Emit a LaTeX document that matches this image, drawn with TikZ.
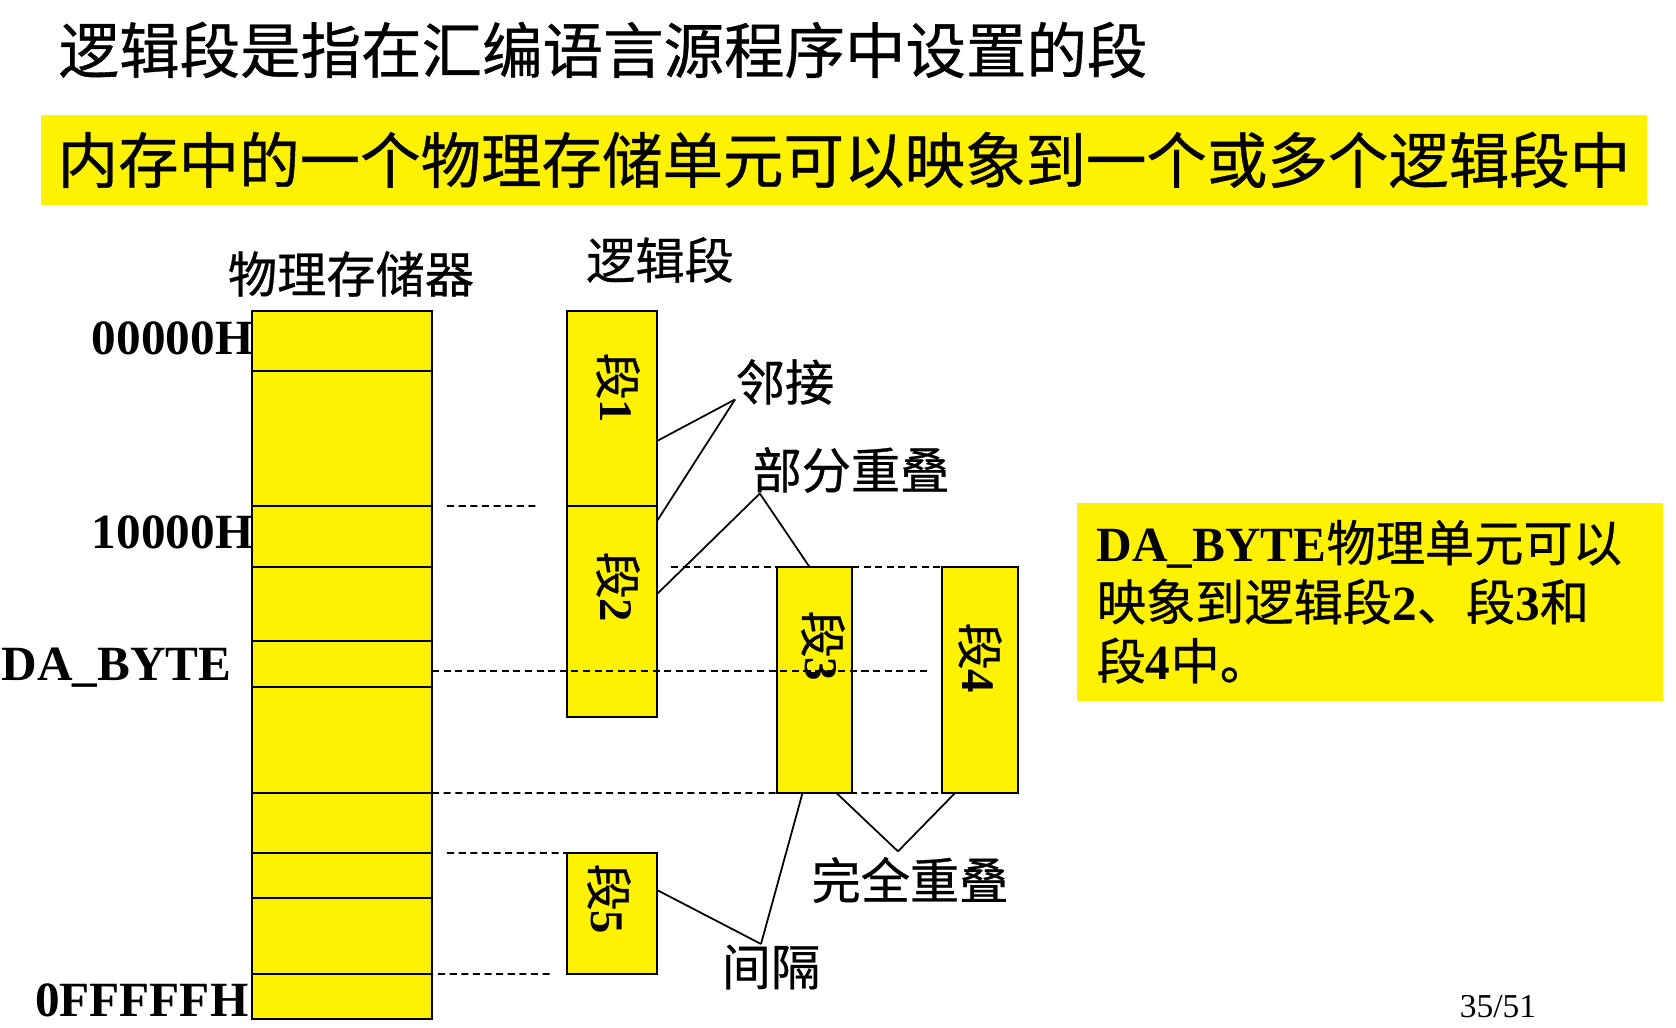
\documentclass[tikz,border=0pt]{standalone}
\usepackage{fontspec}
\setmainfont{Liberation Serif}
\newfontfamily\cjk[FakeBold=0.6]{Noto Sans CJK SC}
\begin{document}
\begin{tikzpicture}[x=0.01cm,y=-0.01cm,
	cell/.style={draw,fill=yellow,line width=0.6pt,minimum width=1.8cm,inner sep=0,outer sep=0},
	seg/.style={draw,fill=yellow,line width=0.6pt,inner sep=0,outer sep=0},
	segtext/.style={rotate=-90,inner sep=0,font=\fontsize{13.3pt}{15pt}\selectfont},
	addr/.style={anchor=east,inner sep=0,font=\bfseries\fontsize{14pt}{16pt}\selectfont},
	note/.style={inner sep=0,font=\cjk\fontsize{14pt}{16pt}\selectfont},
	guide/.style={dash pattern=on 2pt off 1.3pt,line width=0.5pt},
	link/.style={line width=0.5pt}]

	\useasboundingbox (0,0) rectangle (1676,1027);

	\node[anchor=west,inner sep=0,font=\cjk\fontsize{17.2pt}{20pt}\selectfont] (title) at (58,50) {逻辑段是指在汇编语言源程序中设置的段};
	\node[fill=yellow,minimum width=16.05cm,minimum height=0.9cm,inner sep=0,font=\cjk\fontsize{17.2pt}{20pt}\selectfont] (banner) at (844,160) {内存中的一个物理存储单元可以映象到一个或多个逻辑段中};

	\foreach \i/\top/\h in {1/311/0.60, 2/371/1.35, 3/506/0.61, 4/567/0.74, 5/641/0.46,
			6/687/1.06, 7/793/0.60, 8/853/0.45, 9/898/0.76, 10/974/0.45}
		\node[cell,anchor=north west,minimum height=\h cm] (m\i) at (252,\top) {};

	\node[addr] (a0) at (254,338) {00000H};
	\node[addr] (a1) at (254,532) {10000H};
	\node[addr] (a2) at (232,668) {DA\_BYTE};
	\node[addr] (a3) at (249,1000) {0FFFFFH};

	\node[note] (phys) at (351,274) {物理存储器};
	\node[note] (logic) at (660,260) {逻辑段};

	\node[seg,minimum width=0.90cm,minimum height=1.95cm] (s1) at (612,408.5) {};
	\node[seg,minimum width=0.90cm,minimum height=2.11cm] (s2) at (612,611.5) {};
	\node[seg,minimum width=0.75cm,minimum height=2.26cm] (s3) at (814.5,680) {};
	\node[seg,minimum width=0.76cm,minimum height=2.26cm] (s4) at (980,680) {};
	\node[seg,minimum width=0.90cm,minimum height=1.21cm] (s5) at (612,913.5) {};

	\node[segtext] (t1) at (618,388) {{\cjk 段}\textbf{1}};
	\node[segtext] (t2) at (618,587) {{\cjk 段}\textbf{2}};
	\node[segtext] (t3) at (823,646) {{\cjk 段}\textbf{3}};
	\node[segtext] (t4) at (980,658) {{\cjk 段}\textbf{4}};
	\node[segtext] (t5) at (609,899) {{\cjk 段}\textbf{5}};

	\draw[guide] ([xshift=0.15cm]m3.north east) -- ([xshift=-0.29cm]s2.north west);
	\draw[guide] ([xshift=0.14cm]s2.east |- s3.north) -- (s3.north west);
	\draw[guide] (s3.north east) -- (s4.north west);
	\draw[guide] (m5.east |- 0,671) -- ([xshift=-0.12cm]s4.west |- 0,671);
	\draw[guide] (m7.north east) -- (s4.south west);
	\draw[guide] ([xshift=0.15cm]m8.north east) -- (s5.north west);
	\draw[guide] ([xshift=0.06cm]m10.north east) -- ([xshift=-0.14cm]s5.south west);

	\node[note] (adj) at (785,382) {邻接};
	\node[note] (part) at (851,470) {部分重叠};
	\node[note] (full) at (910,880) {完全重叠};
	\node[note] (gap) at (771,967) {间隔};

	\coordinate (adjtip) at ([yshift=0.06cm]adj.south west);
	\coordinate (parttip) at ([xshift=0.08cm]part.south west);
	\coordinate (fulltip) at ([xshift=-0.12cm,yshift=0.05cm]full.north);
	\coordinate (gaptip) at ([xshift=-0.1cm]gap.north);

	\draw[link] (adjtip) -- (s1.east |- 0,441);
	\draw[link] (adjtip) -- (s2.east |- 0,521);
	\draw[link] (parttip) -- (s2.east |- 0,594);
	\draw[link] (parttip) -- ([xshift=-0.05cm]s3.north);
	\draw[link] (fulltip) -- ([xshift=0.22cm]s3.south);
	\draw[link] (fulltip) -- ([xshift=-0.25cm]s4.south);
	\draw[link] (gaptip) -- (s5.east |- 0,890);
	\draw[link] (gaptip) -- ([xshift=-0.12cm]s3.south);

	\node[fill=yellow,anchor=north west,minimum width=5.86cm,minimum height=1.98cm,text width=5.46cm,
		inner xsep=0.2cm,inner ysep=0,align=left,font=\fontsize{14pt}{16.8pt}\selectfont] (info) at (1076,502)
		{\textbf{DA\_BYTE}{\cjk 物理单元可以}\\{\cjk 映象到逻辑段}\textbf{2}{\cjk 、段}\textbf{3}{\cjk 和}\\{\cjk 段}\textbf{4}{\cjk 中。}};

	\node[inner sep=0,font=\fontsize{9.5pt}{11pt}\selectfont] (page) at (1498,1007) {35/51};

\end{tikzpicture}
\end{document}
